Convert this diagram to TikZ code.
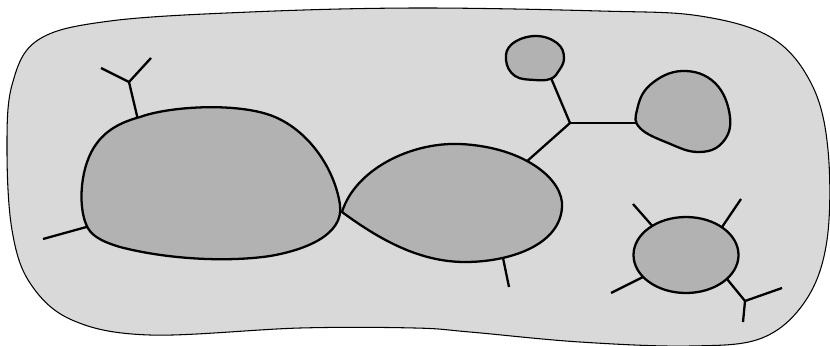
\documentclass[tikz,border=0pt]{standalone}
\usepackage{tikz}
\tikzstyle{outerCell}=[draw=black, line width=0.6pt, fill=black!15]
\tikzstyle{blob}=[draw=black, line width=1.3pt, fill=black!30, line join=round]
\tikzstyle{spike}=[draw=black, line width=1.3pt]

\begin{document}
\begin{tikzpicture}[x=0.02cm, y=-0.02cm]

    \useasboundingbox (0,0) rectangle (830,345);

    % outer region
    \draw[outerCell] plot[smooth cycle, tension=0.6] coordinates {
        (415,8) (600,11) (700,16) (772,38) (812,85) (828,150) (827,240)
        (806,300) (762,338) (690,346) (580,342) (470,332) (415,328)
        (300,328) (150,335) (72,320) (30,283) (12,230) (7,150) (12,85)
        (38,40) (110,21) (250,12)};

    % spikes (behind the blobs)
    \coordinate (a1) at (129,82);
    \draw[spike] (138,120) -- (a1);
    \draw[spike] (101,68) -- (a1) -- (151,58);
    \draw[spike] (90,226) -- (43,239);
    \draw[spike] (503,258) -- (509,287);
    \coordinate (hub) at (570,123);
    \draw[spike] (525,163) -- (hub);
    \draw[spike] (551,78) -- (hub);
    \draw[spike] (hub) -- (638,123);
    \draw[spike] (655,229) -- (633,204);
    \draw[spike] (720,230) -- (741,199);
    \draw[spike] (645,276) -- (611,293);
    \coordinate (a2) at (745,301);
    \draw[spike] (727,279) -- (a2);
    \draw[spike] (782,288) -- (a2) -- (743,322);

    % big blob
    \draw[blob] (140,117) .. controls (170,106) and (240,102) .. (275,117)
        .. controls (310,132) and (335,170) .. (340,205)
        .. controls (344,235) and (305,250) .. (270,256)
        .. controls (230,262) and (170,260) .. (120,247)
        .. controls (100,241) and (90,235) .. (86,224)
        .. controls (78,205) and (80,165) .. (97,143)
        .. controls (108,128) and (125,121) .. (140,117) -- cycle;

    % teardrop blob
    \draw[blob] (342,212) .. controls (355,170) and (410,142) .. (460,144)
        .. controls (525,147) and (564,180) .. (562,207)
        .. controls (560,245) and (510,262) .. (465,262)
        .. controls (420,262) and (380,240) .. (342,212) -- cycle;

    % small top blob
    \draw[blob] plot[smooth cycle, tension=0.7] coordinates {
        (535,36) (557,43) (564,58) (558,72) (550,79) (535,80) (515,76)
        (506,60) (512,44)};

    % right blob
    \draw[blob] plot[smooth cycle, tension=0.7] coordinates {
        (682,71) (715,83) (730,117) (722,143) (698,152) (668,143)
        (640,128) (637,110) (650,85)};

    % bottom right blob
    \draw[blob] (686,255) ellipse (52.5 and 38);

\end{tikzpicture}
\end{document}
